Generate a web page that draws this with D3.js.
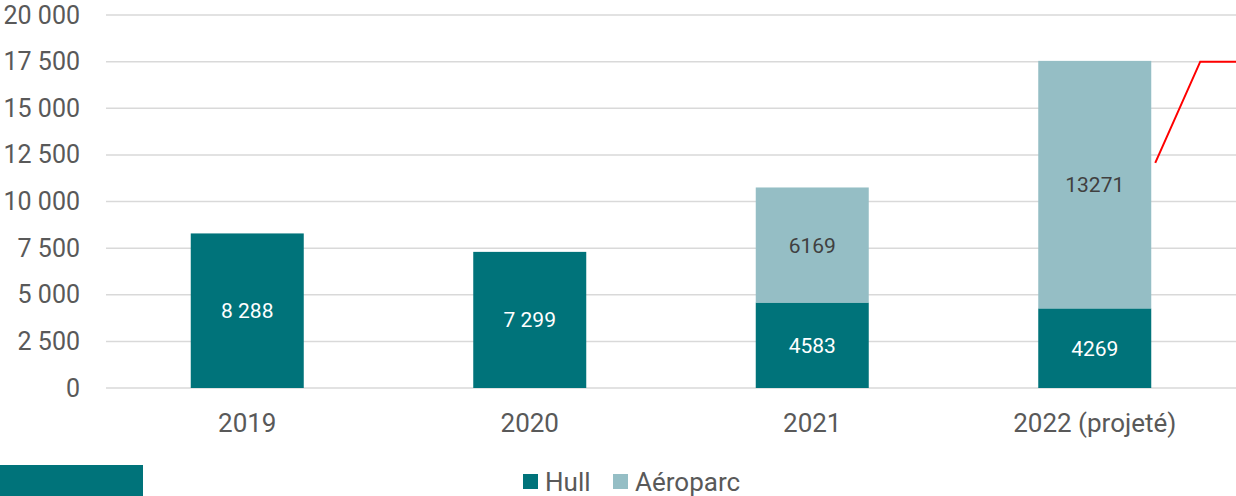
<!DOCTYPE html>
<html>
<head>
<meta charset="utf-8">
<script src="https://cdn.jsdelivr.net/npm/d3@7"></script>
<style>
  body { margin: 0; background: #fff; }
  svg { display: block; font-family: Roboto, "Open Sans", sans-serif; }
</style>
</head>
<body>
<svg width="1236" height="496"></svg>
<script>
// Values
const categories = ["2019", "2020", "2021", "2022 (projeté)"];
const seriesNames = ["Hull", "Aéroparc"];
const hull = [8288, 7299, 4583, 4269];
const aeroparc = [0, 0, 6169, 13271];
const hullLabels = ["8 288", "7 299", "4583", "4269"];
const aeroLabels = ["", "", "6169", "13271"];
const yTicks = [0, 2500, 5000, 7500, 10000, 12500, 15000, 17500, 20000];
const redLine = [12070, 17500, 17500];	// annotation line near the last bar

const colors = { "Hull": "#00737A", "Aéroparc": "#95BEC5" };

const svg = d3.select("svg");
const width = 1236;

const x = d3.scaleBand()
  .domain(categories)
  .range([106, 1236])
  .paddingInner(0.6)
  .paddingOuter(0.3);

const y = d3.scaleLinear()
  .domain([0, 20000])
  .range([388, 15]);

// thousands separated by a space, French style
const fmt = v => d3.format(",")(v).replace(/,/g, " ");

// gridlines
svg.append("g")
  .selectAll("line")
  .data(yTicks)
  .join("line")
  .attr("x1", 106)
  .attr("x2", width)
  .attr("y1", d => y(d))
  .attr("y2", d => y(d))
  .attr("stroke", "#d9d9d9")
  .attr("stroke-width", 1.5);

// y axis labels
const yAxis = d3.axisLeft(y).tickValues(yTicks).tickFormat(fmt).tickSize(0).tickPadding(0);
const yg = svg.append("g").attr("transform", "translate(80,0)").call(yAxis);
yg.select(".domain").remove();
yg.selectAll("text").attr("fill", "#595959").style("font-size", "25px").style("font-family", "Roboto");

// stacked bars
const rows = categories.map((c, i) => ({ cat: c, "Hull": hull[i], "Aéroparc": aeroparc[i] }));
const stack = d3.stack().keys(seriesNames)(rows);

svg.append("g")
  .selectAll("g")
  .data(stack)
  .join("g")
  .attr("fill", d => colors[d.key])
  .selectAll("rect")
  .data(d => d.filter(s => s[1] > s[0]))
  .join("rect")
  .attr("x", d => x(d.data.cat))
  .attr("width", x.bandwidth())
  .attr("y", d => y(d[1]))
  .attr("height", d => y(d[0]) - y(d[1]));

// value labels
const labels = svg.append("g").style("font-size", "21px").attr("text-anchor", "middle");
stack[0].forEach((s, i) => {
  labels.append("text")
    .attr("x", x(categories[i]) + x.bandwidth() / 2)
    .attr("y", (y(s[0]) + y(s[1])) / 2)
    .attr("dy", "0.36em")
    .attr("fill", "#fff")
    .text(hullLabels[i]);
});
stack[1].forEach((s, i) => {
  if (!aeroLabels[i]) return;
  labels.append("text")
    .attr("x", x(categories[i]) + x.bandwidth() / 2)
    .attr("y", (y(s[0]) + y(s[1])) / 2)
    .attr("dy", "0.36em")
    .attr("fill", "#404040")
    .text(aeroLabels[i]);
});

// x axis labels
const xAxis = d3.axisBottom(x).tickSize(0).tickPadding(0);
const xg = svg.append("g").attr("transform", "translate(0,414)").call(xAxis);
xg.select(".domain").remove();
xg.selectAll("text").attr("fill", "#595959").style("font-size", "26px").style("font-family", "Roboto");

// red annotation line
const last = categories[categories.length - 1];
const lx0 = x(last) + x.bandwidth() + 4;
const redX = [lx0, lx0 + 45, width];
svg.append("path")
  .datum(redLine)
  .attr("fill", "none")
  .attr("stroke", "#ff0000")
  .attr("stroke-width", 2)
  .attr("d", d3.line().x((d, i) => redX[i]).y(d => y(d)));

// teal block bottom-left
svg.append("rect")
  .attr("x", 0).attr("y", 465)
  .attr("width", 143).attr("height", 31)
  .attr("fill", colors["Hull"]);

// legend
const legend = svg.append("g").attr("transform", "translate(523,474)");
const legendX = [0, 90];
seriesNames.forEach((name, i) => {
  const g = legend.append("g").attr("transform", `translate(${legendX[i]},0)`);
  g.append("rect").attr("width", 15).attr("height", 15).attr("fill", colors[name]);
  g.append("text")
    .attr("x", 22).attr("y", 8).attr("dy", "0.36em")
    .attr("fill", "#595959")
    .style("font-size", "26px")
    .text(name);
});
</script>
</body>
</html>
